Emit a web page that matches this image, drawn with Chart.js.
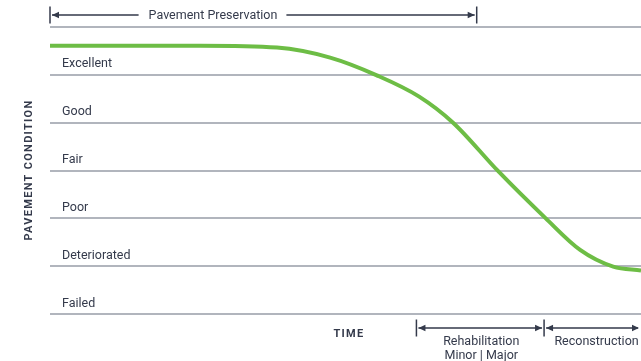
<!DOCTYPE html>
<html>
<head>
<meta charset="utf-8">
<script src="https://cdn.jsdelivr.net/npm/chart.js@4/dist/chart.umd.min.js"></script>
<style>
  html, body { margin: 0; padding: 0; background: #ffffff; }
  #wrap { width: 641px; height: 361px; position: relative; }
</style>
</head>
<body>
<div id="wrap"><canvas id="chart" width="641" height="361"></canvas></div>
<script>
// Pavement condition over time (time in % of the life span, condition in bands 0..6)
const timeSteps = [0, 25.4, 38.4, 47.4, 55.3, 62.4, 68.2, 75.8, 83.8, 89.7, 95.3, 100];
const conditionValues = [5.61, 5.61, 5.57, 5.36, 4.99, 4.55, 4.00, 2.99, 2.01, 1.34, 0.99, 0.91];

// Condition bands, bottom to top
const conditionLabels = ['Failed', 'Deteriorated', 'Poor', 'Fair', 'Good', 'Excellent'];

// Treatment phases along the time axis
const phaseNames = ['Pavement Preservation', 'Rehabilitation', 'Reconstruction'];
const phaseStart = [0, 62, 83.6];
const phaseEnd = [72.2, 83.6, 100];

const INK = '#343a4b';
const FONT = 'Roboto, "Liberation Sans", sans-serif';

function arrowHead(ctx, x, y, dir) {
  ctx.beginPath();
  ctx.moveTo(x, y);
  ctx.lineTo(x - dir * 7, y - 3.2);
  ctx.lineTo(x - dir * 7, y + 3.2);
  ctx.closePath();
  ctx.fill();
}

function vTick(ctx, x, y, h) {
  ctx.beginPath();
  ctx.moveTo(x, y - h / 2);
  ctx.lineTo(x, y + h / 2);
  ctx.stroke();
}

const annotations = {
  id: 'annotations',
  afterDraw(chart) {
    const ctx = chart.ctx;
    const xs = chart.scales.x;
    const ys = chart.scales.y;
    ctx.save();
    ctx.fillStyle = INK;
    ctx.strokeStyle = INK;

    // band labels
    ctx.font = '12.5px ' + FONT;
    ctx.textAlign = 'left';
    ctx.textBaseline = 'middle';
    conditionLabels.forEach((lab, i) => {
      ctx.fillText(lab, 62, ys.getPixelForValue(i + 0.22));
    });

    // axis titles
    ctx.font = 'bold 11px ' + FONT;
    ctx.letterSpacing = '1.3px';
    ctx.textAlign = 'center';
    ctx.save();
    ctx.translate(29, 170);
    ctx.rotate(-Math.PI / 2);
    ctx.fillText('PAVEMENT CONDITION', 0, 0);
    ctx.restore();
    ctx.fillText('TIME', 349, 334);
    ctx.letterSpacing = '0px';

    ctx.lineWidth = 1.5;
    ctx.font = '12.5px ' + FONT;

    // top bracket: preservation
    const topY = 15;
    const p0 = xs.getPixelForValue(phaseStart[0]);
    const p1 = xs.getPixelForValue(phaseEnd[0]);
    const tw = ctx.measureText(phaseNames[0]).width;
    const pc = 213;
    ctx.beginPath();
    ctx.moveTo(p0 + 2, topY); ctx.lineTo(pc - tw / 2 - 10, topY);
    ctx.moveTo(pc + tw / 2 + 9, topY); ctx.lineTo(p1 - 2, topY);
    ctx.stroke();
    vTick(ctx, p0, topY, 17);
    vTick(ctx, p1, topY, 17);
    arrowHead(ctx, p0 + 2, topY, -1);
    arrowHead(ctx, p1 - 2, topY, 1);
    ctx.textAlign = 'center';
    ctx.fillText(phaseNames[0], pc, topY + 1);

    // bottom brackets: rehabilitation, reconstruction
    const botY = 328;
    const r0 = xs.getPixelForValue(phaseStart[1]);
    const r1 = xs.getPixelForValue(phaseEnd[1]);
    const c1 = xs.getPixelForValue(phaseEnd[2]);
    ctx.beginPath();
    ctx.moveTo(r0 + 2, botY); ctx.lineTo(r1 - 2, botY);
    ctx.moveTo(r1 + 2, botY); ctx.lineTo(c1 - 3, botY);
    ctx.stroke();
    vTick(ctx, r0, botY, 17);
    vTick(ctx, r1, botY, 17);
    arrowHead(ctx, r0 + 2, botY, -1);
    arrowHead(ctx, r1 - 2, botY, 1);
    arrowHead(ctx, r1 + 2, botY, -1);
    arrowHead(ctx, c1 - 2, botY, 1);

    ctx.fillText(phaseNames[1], (r0 + r1) / 2 + 1, 342);
    ctx.fillText('Minor | Major', (r0 + r1) / 2 + 1, 356);
    ctx.fillText(phaseNames[2], (r1 + c1) / 2 + 4, 342);

    ctx.restore();
  }
};

new Chart(document.getElementById('chart'), {
  type: 'line',
  data: {
    labels: timeSteps,
    datasets: [{
      data: timeSteps.map((t, i) => ({ x: t, y: conditionValues[i] })),
      borderColor: '#6dbd45',
      borderWidth: 4,
      pointRadius: 0,
      cubicInterpolationMode: 'monotone',
      fill: false
    }]
  },
  options: {
    responsive: false,
    animation: false,
    layout: { padding: { left: 50, right: 0, top: 27, bottom: 47 } },
    plugins: { legend: { display: false }, tooltip: { enabled: false } },
    scales: {
      x: { type: 'linear', min: 0, max: 100, display: false },
      y: {
        min: 0, max: 6,
        ticks: { display: false, stepSize: 1 },
        border: { display: false },
        grid: { color: '#b1b5bd', lineWidth: 2, drawTicks: false }
      }
    }
  },
  plugins: [annotations]
});
</script>
</body>
</html>
